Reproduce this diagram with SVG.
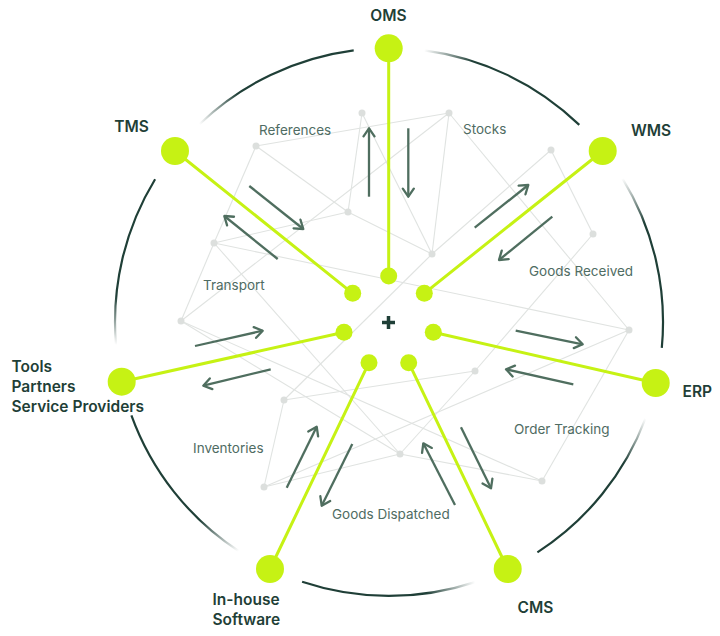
<svg xmlns="http://www.w3.org/2000/svg" width="720" height="636" viewBox="0 0 720 636">
<style>
.net line{stroke:#e0e3e1;stroke-width:1.1}
.net circle{fill:#dcdfdd}
.spoke{stroke:#c6f214;stroke-width:3;stroke-linecap:round}
.node{fill:#c6f214}
.nlabel{font-family:Inter,"Liberation Sans",sans-serif;font-weight:600;font-size:15.5px;fill:#1f3f37}
.tlabel{font-family:Inter,"Liberation Sans",sans-serif;font-weight:400;font-size:13.5px;fill:#4f6c63}
.arr line{stroke:#4f6e5f;stroke-width:2.3;marker-end:url(#head)}
.arc{fill:none;stroke-width:2.2}
</style>
<defs>
<marker id="head" markerUnits="userSpaceOnUse" viewBox="0 0 12 14" markerWidth="12" markerHeight="14" refX="10" refY="7" orient="auto">
<path d="M2,1.5 L10,7 L2,12.5" fill="none" stroke="#4f6e5f" stroke-width="2.3" stroke-linecap="round" stroke-linejoin="round"/>
</marker>
<linearGradient id="g1" gradientUnits="userSpaceOnUse" x1="116" y1="344.9" x2="155.1" y2="179.2"><stop offset="0" stop-color="#1f3f37" stop-opacity="0"/><stop offset="0.28" stop-color="#1f3f37"/><stop offset="1" stop-color="#1f3f37"/></linearGradient>
<linearGradient id="g2" gradientUnits="userSpaceOnUse" x1="199.4" y1="124.2" x2="353.7" y2="50.3"><stop offset="0" stop-color="#1f3f37" stop-opacity="0"/><stop offset="0.28" stop-color="#1f3f37"/><stop offset="1" stop-color="#1f3f37"/></linearGradient>
<linearGradient id="g3" gradientUnits="userSpaceOnUse" x1="424.3" y1="50.3" x2="579.3" y2="124.9"><stop offset="0" stop-color="#1f3f37" stop-opacity="0"/><stop offset="0.28" stop-color="#1f3f37"/><stop offset="1" stop-color="#1f3f37"/></linearGradient>
<linearGradient id="g4" gradientUnits="userSpaceOnUse" x1="622.4" y1="178.4" x2="661.8" y2="347.8"><stop offset="0" stop-color="#1f3f37" stop-opacity="0"/><stop offset="0.28" stop-color="#1f3f37"/><stop offset="1" stop-color="#1f3f37"/></linearGradient>
<linearGradient id="g5" gradientUnits="userSpaceOnUse" x1="645.5" y1="418.4" x2="537.4" y2="552.3"><stop offset="0" stop-color="#1f3f37" stop-opacity="0"/><stop offset="0.28" stop-color="#1f3f37"/><stop offset="1" stop-color="#1f3f37"/></linearGradient>
<linearGradient id="g6" gradientUnits="userSpaceOnUse" x1="475" y1="582.1" x2="302.1" y2="581.8"><stop offset="0" stop-color="#1f3f37" stop-opacity="0"/><stop offset="0.28" stop-color="#1f3f37"/><stop offset="1" stop-color="#1f3f37"/></linearGradient>
<linearGradient id="g7" gradientUnits="userSpaceOnUse" x1="238.6" y1="551" x2="131.4" y2="415.3"><stop offset="0" stop-color="#1f3f37" stop-opacity="0"/><stop offset="0.28" stop-color="#1f3f37"/><stop offset="1" stop-color="#1f3f37"/></linearGradient>
</defs>
<rect width="720" height="636" fill="#ffffff"/>

<g id="ring">
<path class="arc" stroke="url(#g1)" d="M116,344.9 A274,274 0 0 1 155.1,179.2"/>
<path class="arc" stroke="url(#g2)" d="M199.4,124.2 A274,274 0 0 1 353.7,50.3"/>
<path class="arc" stroke="url(#g3)" d="M424.3,50.3 A274,274 0 0 1 579.3,124.9"/>
<path class="arc" stroke="url(#g4)" d="M622.4,178.4 A274,274 0 0 1 661.8,347.8"/>
<path class="arc" stroke="url(#g5)" d="M645.5,418.4 A274,274 0 0 1 537.4,552.3"/>
<path class="arc" stroke="url(#g6)" d="M475,582.1 A274,274 0 0 1 302.1,581.8"/>
<path class="arc" stroke="url(#g7)" d="M238.6,551 A274,274 0 0 1 131.4,415.3"/>
</g>

<g id="network" class="net">
<line x1="256" y1="146" x2="449" y2="113"/>
<line x1="256" y1="146" x2="214" y2="243"/>
<line x1="214" y1="243" x2="181" y2="321"/>
<line x1="256" y1="146" x2="348" y2="212"/>
<line x1="348" y1="212" x2="432" y2="254"/>
<line x1="362" y1="113" x2="348" y2="212"/>
<line x1="362" y1="113" x2="432" y2="254"/>
<line x1="449" y1="113" x2="432" y2="254"/>
<line x1="449" y1="113" x2="181" y2="321"/>
<line x1="449" y1="113" x2="629" y2="330"/>
<line x1="214" y1="243" x2="348" y2="212"/>
<line x1="214" y1="243" x2="629" y2="330"/>
<line x1="214" y1="243" x2="400" y2="454"/>
<line x1="551" y1="150" x2="432" y2="254"/>
<line x1="551" y1="150" x2="593" y2="234"/>
<line x1="593" y1="234" x2="475" y2="371"/>
<line x1="475" y1="371" x2="400" y2="454"/>
<line x1="475" y1="371" x2="284" y2="400"/>
<line x1="432" y1="254" x2="284" y2="400"/>
<line x1="284" y1="400" x2="264" y2="487"/>
<line x1="264" y1="487" x2="400" y2="454"/>
<line x1="264" y1="487" x2="629" y2="330"/>
<line x1="400" y1="454" x2="542" y2="481"/>
<line x1="181" y1="321" x2="542" y2="481"/>
<line x1="181" y1="321" x2="400" y2="454"/>
<line x1="629" y1="330" x2="542" y2="481"/>
<circle cx="362" cy="113" r="3.5"/>
<circle cx="449" cy="113" r="3.5"/>
<circle cx="256" cy="146" r="3.5"/>
<circle cx="551" cy="150" r="3.5"/>
<circle cx="348" cy="212" r="3.5"/>
<circle cx="214" cy="243" r="3.5"/>
<circle cx="593" cy="234" r="3.5"/>
<circle cx="432" cy="254" r="3.5"/>
<circle cx="181" cy="321" r="3.5"/>
<circle cx="629" cy="330" r="3.5"/>
<circle cx="284" cy="400" r="3.5"/>
<circle cx="475" cy="371" r="3.5"/>
<circle cx="400" cy="454" r="3.5"/>
<circle cx="264" cy="487" r="3.5"/>
<circle cx="542" cy="481" r="3.5"/>
</g>

<g id="flow-labels">
<text class="tlabel" x="259" y="135">References</text>
<text class="tlabel" x="463" y="134">Stocks</text>
<text class="tlabel" x="203" y="290">Transport</text>
<text class="tlabel" x="529" y="276">Goods Received</text>
<text class="tlabel" x="193" y="453">Inventories</text>
<text class="tlabel" x="514" y="434">Order Tracking</text>
<text class="tlabel" x="332" y="519">Goods Dispatched</text>
</g>

<g id="connectors" class="arr">
<line x1="369" y1="196.7" x2="369" y2="128.3"/>
<line x1="408.3" y1="128.3" x2="408.3" y2="196.7"/>
<line x1="249.3" y1="186" x2="303.3" y2="229"/>
<line x1="277.7" y1="259" x2="224.3" y2="216"/>
<line x1="474.7" y1="227.7" x2="528.3" y2="185"/>
<line x1="552.3" y1="216.7" x2="499" y2="260"/>
<line x1="515.7" y1="330.7" x2="582.7" y2="344.3"/>
<line x1="573.3" y1="384.3" x2="506" y2="369.3"/>
<line x1="195" y1="346" x2="262.7" y2="330.7"/>
<line x1="270.7" y1="369.3" x2="203.3" y2="385.7"/>
<line x1="286.7" y1="487.7" x2="316.7" y2="426.7"/>
<line x1="352.3" y1="444" x2="321.7" y2="505.7"/>
<line x1="455" y1="505" x2="423.3" y2="443.3"/>
<line x1="461" y1="427.3" x2="491" y2="488.3"/>
</g>

<g id="node-oms">
<line class="spoke" x1="388.7" y1="48.3" x2="388.7" y2="276"/>
<circle class="node" cx="388.7" cy="48.3" r="14"/>
<circle class="node" cx="388.7" cy="276" r="8.5"/>
<text class="nlabel" x="388.5" y="21" text-anchor="middle">OMS</text>
</g>
<g id="node-tms">
<line class="spoke" x1="175" y1="151" x2="352.7" y2="293.3"/>
<circle class="node" cx="175" cy="151" r="14"/>
<circle class="node" cx="352.7" cy="293.3" r="8.5"/>
<text class="nlabel" x="131.5" y="131.5" text-anchor="middle">TMS</text>
</g>
<g id="node-wms">
<line class="spoke" x1="602.7" y1="151" x2="424.3" y2="293.3"/>
<circle class="node" cx="602.7" cy="151" r="14"/>
<circle class="node" cx="424.3" cy="293.3" r="8.5"/>
<text class="nlabel" x="651" y="135.5" text-anchor="middle">WMS</text>
</g>
<g id="node-erp">
<line class="spoke" x1="655.7" y1="383" x2="433.3" y2="332.3"/>
<circle class="node" cx="655.7" cy="383" r="14"/>
<circle class="node" cx="433.3" cy="332.3" r="8.5"/>
<text class="nlabel" x="682.5" y="397">ERP</text>
</g>
<g id="node-cms">
<line class="spoke" x1="507.7" y1="569" x2="408.7" y2="362.7"/>
<circle class="node" cx="507.7" cy="569" r="14"/>
<circle class="node" cx="408.7" cy="362.7" r="8.5"/>
<text class="nlabel" x="535.5" y="613" text-anchor="middle">CMS</text>
</g>
<g id="node-inhouse">
<line class="spoke" x1="270" y1="569" x2="369" y2="362.7"/>
<circle class="node" cx="270" cy="569" r="14"/>
<circle class="node" cx="369" cy="362.7" r="8.5"/>
<text class="nlabel" x="212.5" y="605">In-house</text>
<text class="nlabel" x="212.5" y="625">Software</text>
</g>
<g id="node-tools">
<line class="spoke" x1="121.7" y1="381.7" x2="344" y2="332.3"/>
<circle class="node" cx="121.7" cy="381.7" r="14"/>
<circle class="node" cx="344" cy="332.3" r="8.5"/>
<text class="nlabel" x="11.5" y="372">Tools</text>
<text class="nlabel" x="11.5" y="392">Partners</text>
<text class="nlabel" x="11.5" y="412">Service Providers</text>
</g>

<g id="center">
<path d="M388.5,316 V329 M382,322.5 H395" stroke="#1f3f37" stroke-width="3.5" fill="none"/>
</g>
</svg>
